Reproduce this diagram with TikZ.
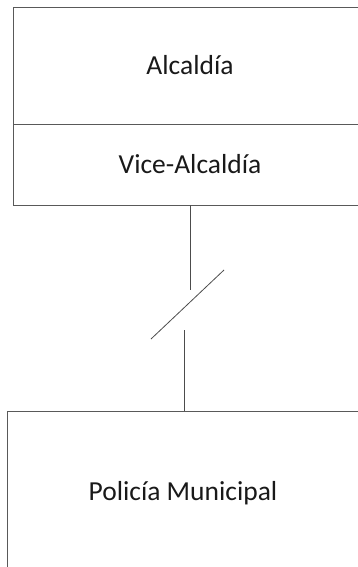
\documentclass[tikz,border=0pt]{standalone}
\usepackage{fontspec}
\setmainfont{Carlito}
\usetikzlibrary{positioning}

\begin{document}
\begin{tikzpicture}[
    x=1pt, y=-1pt,
    node distance=0pt,
 orgbox/.style = {
        draw=black!65, rectangle, line width=0.8pt, align=center,
        inner sep=0pt, outer sep=0pt, text=black!90,
        font=\fontsize{27.5}{32}\selectfont},
   link/.style = {draw=black!70, line width=0.8pt}
                    ]
\useasboundingbox (0,0) rectangle (358,567);
\clip (0,0) rectangle (358,567);
% the boxes
\node (alcaldia) [orgbox, anchor=north west, minimum width=354pt,
                  minimum height=117pt] at (13,7) {Alcaldía};
\node (vice)     [orgbox, below=of alcaldia, minimum width=354pt,
                  minimum height=81pt] {Vice-Alcaldía};
\node (policia)  [orgbox, anchor=north west, minimum width=352pt,
                  minimum height=164pt] at (7,411) {Policía Municipal};
% the broken link
\coordinate (gapA) at (190,290);
\coordinate (gapB) at (184,330);
\coordinate (brkA) at (151,339);
\coordinate (brkB) at (224,270);
\draw[link] (vice.south) -- (gapA);
\draw[link] (brkA) -- (brkB);
\draw[link] (gapB) -- (gapB |- policia.north);
\end{tikzpicture}
\end{document}
